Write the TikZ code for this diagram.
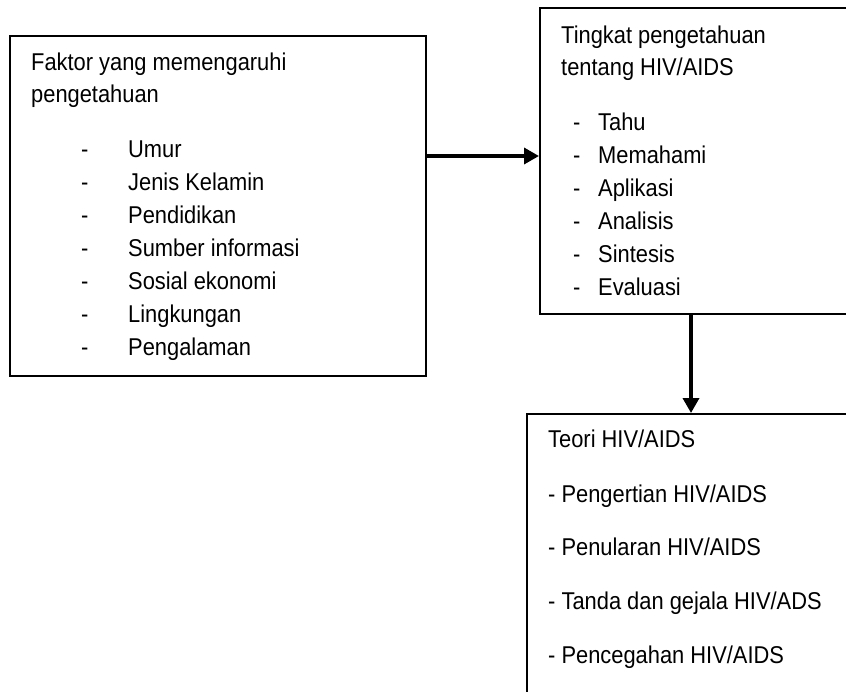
\documentclass[tikz,border=0pt]{standalone}
\usepackage{fontspec}
\setmainfont{Liberation Sans}[FakeStretch=0.9]
\usetikzlibrary{arrows.meta}
\begin{document}
\begin{tikzpicture}[x=1pt,y=1pt,
  box/.style={draw,line width=2.2pt,rectangle,inner sep=0pt,anchor=north west},
  txt/.style={anchor=base west,inner sep=0pt,font=\fontsize{24.3}{28}\selectfont},
  conn/.style={line width=3.5pt,-{Triangle[length=15pt,width=16pt]}}]
\clip (0,0) rectangle (846,-691);
\fill[white] (0,0) rectangle (846,-691);
% boxes
\node[box,minimum width=416pt,minimum height=340pt] (left) at (9,-35) {};
\node[box,minimum width=330pt,minimum height=306pt] (tingkat) at (539,-7) {};
\node[box,minimum width=340pt,minimum height=300pt] (teori) at (526,-413) {};
% left texts
\node[txt] (l1) at (31,-70) {Faktor yang memengaruhi};
\node[txt] (l2) at (31,-102) {pengetahuan};
\foreach \t [count=\i] in {Umur,Jenis Kelamin,Pendidikan,Sumber informasi,Sosial ekonomi,Lingkungan,Pengalaman}{
  \node[txt] (ld\i) at (81,-124-33*\i) {-};
  \node[txt] (li\i) at (128,-124-33*\i) {\t};
}
% tingkat texts
\node[txt] (t1) at (561,-43) {Tingkat pengetahuan};
\node[txt] (t2) at (561,-75) {tentang HIV/AIDS};
\foreach \t [count=\i] in {Tahu,Memahami,Aplikasi,Analisis,Sintesis,Evaluasi}{
  \node[txt] (td\i) at (573,-97-33*\i) {-};
  \node[txt] (ti\i) at (598,-97-33*\i) {\t};
}
% teori texts
\node[txt] (r0) at (548,-447) {Teori HIV/AIDS};
\node[txt] (r1) at (548,-502) {- Pengertian HIV/AIDS};
\node[txt] (r2) at (548,-555) {- Penularan HIV/AIDS};
\node[txt] (r3) at (548,-609) {- Tanda dan gejala HIV/ADS};
\node[txt] (r4) at (548,-663) {- Pencegahan HIV/AIDS};
% connectors
\draw[conn] (left.east |- 0,-156) -- (tingkat.west |- 0,-156);
\draw[conn] (tingkat.south -| 691,0) -- (teori.north -| 691,0);
\end{tikzpicture}
\end{document}
